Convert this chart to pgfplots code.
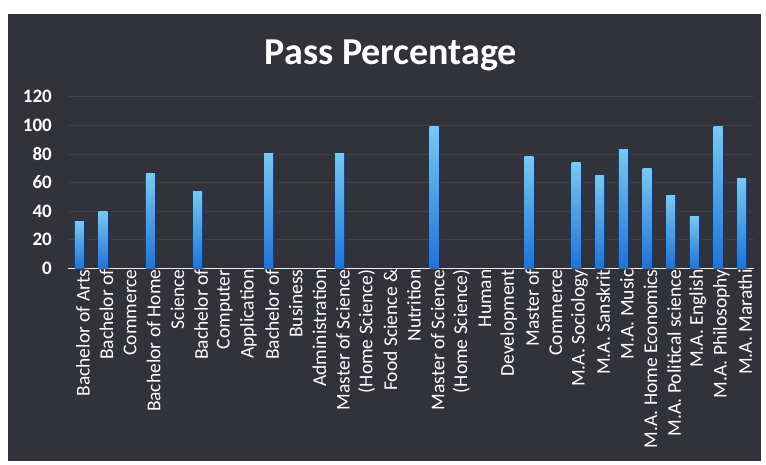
\documentclass[border=0pt]{standalone}
\usepackage{pgfplots}
\pgfplotsset{compat=1.18}
\usepackage{fontspec}
\setmainfont{Carlito}
\definecolor{bgc}{RGB}{50,51,58}
\definecolor{bartop}{RGB}{120,200,240}
\definecolor{barbot}{RGB}{30,115,215}
\definecolor{barsh}{RGB}{20,55,115}
\definecolor{gridc}{RGB}{64,65,72}
\pgfplotsset{
  sbar/.style={ybar, bar width=9pt, bar shift=-0.5pt, top color=bartop, bottom color=barbot, draw=none, forget plot},
}
\begin{document}
\begin{tikzpicture}
\fill[white] (-68pt,268.3pt) rectangle (698pt,-195.7pt);
\fill[bgc] (-60pt,254.3pt) rectangle (693pt,-193pt);
\node[text=white,font=\bfseries\fontsize{38}{42}\selectfont] at (323pt,213pt) {Pass Percentage};
\begin{axis}[
  at={(0,0)}, anchor=south west,
  scale only axis, width=686pt, height=171.6pt,
  xmin=-0.5, xmax=28.5, ymin=0, ymax=120,
  ytick={0,20,...,120},
  xtick={0,...,28},
  xticklabels={Bachelor of Arts,Bachelor of,Commerce,Bachelor of Home,Science,Bachelor of,Computer,Application,Bachelor of,Business,Administration,Master of Science,(Home Science),Food Science \&,Nutrition,Master of Science,(Home Science),Human,Development,Master of,Commerce,M.A. Sociology,M.A. Sanskrit,M.A. Music,M.A. Home Economics,M.A. Political science,M.A. English,M.A. Philosophy,M.A. Marathi},
  x tick label style={rotate=90, anchor=east, text=white, font=\fontsize{19.5}{21}\selectfont, inner sep=1pt, yshift=-3pt},
  y tick label style={text=white, font=\bfseries\fontsize{19}{21}\selectfont, anchor=east, inner sep=0pt, xshift=-16pt},
  /pgf/number format/assume math mode=true,
  ymajorgrids, grid style={gridc, line width=0.6pt},
  axis x line*=bottom, axis y line*=left,
  y axis line style={draw=none},
  x axis line style={white!85!gray, line width=1.5pt, -},
  major tick length=0pt,
  axis on top=false,
]
% dark right-edge shadow
\addplot[ybar, bar width=10pt, bar shift=1.5pt, fill=barsh, draw=none, forget plot] coordinates {
(0,33) (1,40) (3,66) (5,54) (8,80) (11,80) (15,99) (19,78)
(21,74) (22,65) (23,83) (24,70) (25,51) (26,36) (27,99) (28,63)};
\addplot[sbar] coordinates {(0,33)};
\addplot[sbar] coordinates {(1,40)};
\addplot[sbar] coordinates {(3,66)};
\addplot[sbar] coordinates {(5,54)};
\addplot[sbar] coordinates {(8,80)};
\addplot[sbar] coordinates {(11,80)};
\addplot[sbar] coordinates {(15,99)};
\addplot[sbar] coordinates {(19,78)};
\addplot[sbar] coordinates {(21,74)};
\addplot[sbar] coordinates {(22,65)};
\addplot[sbar] coordinates {(23,83)};
\addplot[sbar] coordinates {(24,70)};
\addplot[sbar] coordinates {(25,51)};
\addplot[sbar] coordinates {(26,36)};
\addplot[sbar] coordinates {(27,99)};
\addplot[sbar] coordinates {(28,63)};
\end{axis}
\end{tikzpicture}
\end{document}
